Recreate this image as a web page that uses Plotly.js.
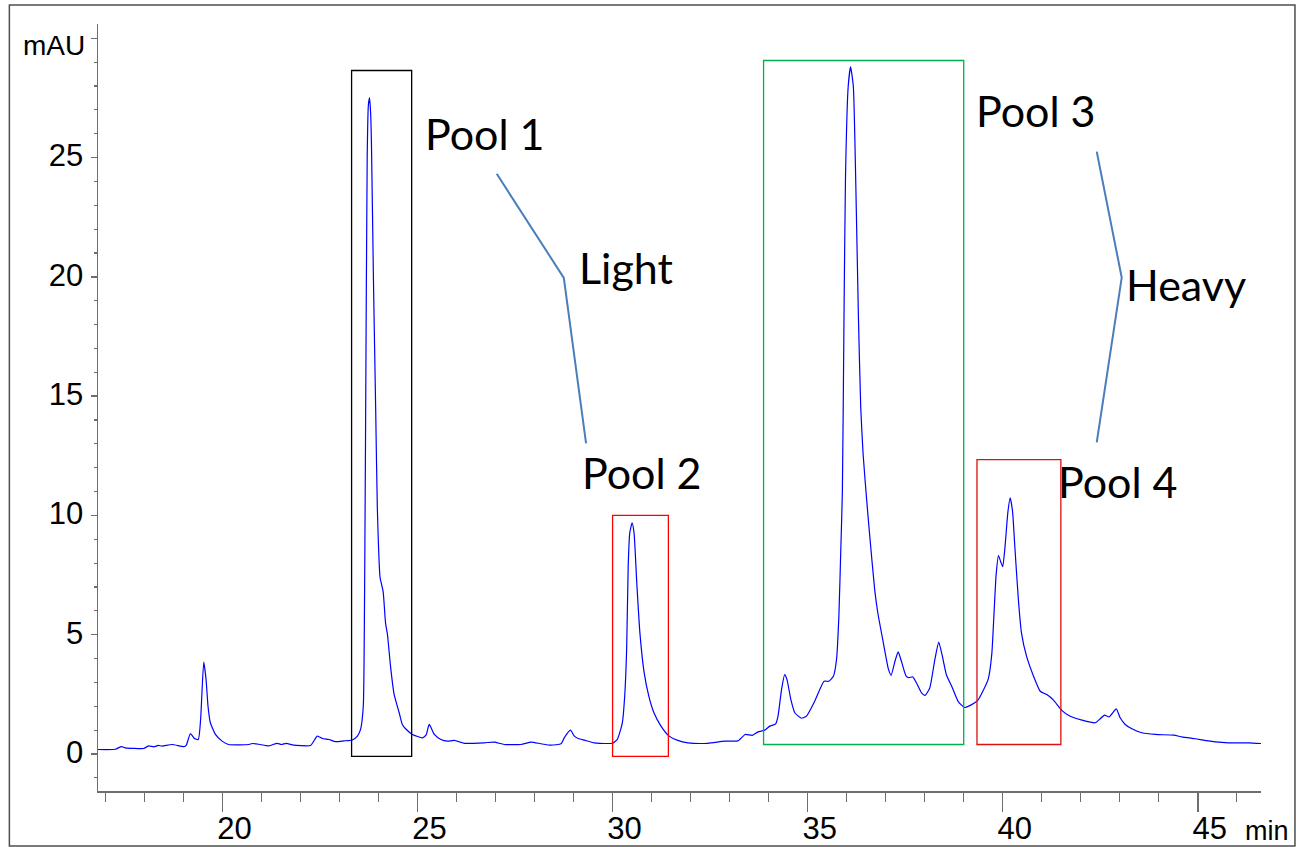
<!DOCTYPE html>
<html>
<head>
<meta charset="utf-8">
<script src="https://cdn.plot.ly/plotly-3.0.1.min.js"></script>
<style>
  html, body { margin: 0; padding: 0; background: #fff; }
  #chart { width: 1296px; height: 847px; }
</style>
</head>
<body>
<div id="chart"></div>
<script>
// Retention time (min)
const rt = [
  16.81, 17.25, 17.41, 17.51, 17.98, 18.11, 18.24, 18.36, 18.45, 18.71,
  19.01, 19.07, 19.18, 19.28, 19.38, 19.44, 19.52, 19.58, 19.63, 19.69,
  19.82, 19.99, 20.16, 20.68, 20.76, 20.93, 21.19, 21.40, 21.51, 21.64,
  21.79, 22.26, 22.43, 22.56, 22.73, 22.90, 23.11, 23.33, 23.46, 23.54,
  23.61, 23.64, 23.67, 23.71, 23.74, 23.77, 23.80, 23.82, 23.87, 23.93,
  23.97, 24.04, 24.08, 24.12, 24.18, 24.23, 24.31, 24.40, 24.53, 24.61,
  24.70, 24.87, 25.13, 25.22, 25.30, 25.43, 25.60, 25.77, 25.94, 26.20,
  26.71, 26.97, 27.22, 27.65, 27.91, 28.16, 28.42, 28.68, 28.76, 28.92,
  29.02, 29.12, 29.28, 29.53, 29.87, 29.99, 30.12, 30.25, 30.31, 30.36,
  30.40, 30.44, 30.50, 30.55, 30.62, 30.70, 30.81, 30.93, 31.06, 31.24,
  31.45, 31.67, 31.93, 32.44, 32.87, 33.21, 33.40, 33.58, 33.73, 33.90,
  34.03, 34.18, 34.24, 34.33, 34.41, 34.47, 34.57, 34.67, 34.84, 34.97,
  35.18, 35.42, 35.54, 35.66, 35.74, 35.80, 35.85, 35.89, 35.93, 35.97,
  36.04, 36.10, 36.17, 36.23, 36.30, 36.36, 36.42, 36.51, 36.59, 36.72,
  36.80, 36.94, 37.07, 37.14, 37.24, 37.32, 37.41, 37.52, 37.60, 37.69,
  37.79, 37.92, 38.01, 38.13, 38.26, 38.36, 38.45, 38.56, 38.69, 38.86,
  39.02, 39.18, 39.36, 39.49, 39.63, 39.72, 39.78, 39.83, 39.89, 39.95,
  40.00, 40.06, 40.13, 40.19, 40.25, 40.31, 40.40, 40.48, 40.61, 40.79,
  40.96, 41.13, 41.30, 41.52, 41.73, 42.03, 42.37, 42.50, 42.61, 42.73,
  42.91, 43.01, 43.14, 43.31, 43.57, 43.91, 44.38, 44.59, 44.93, 45.45,
  45.79, 46.31, 46.62
];
// Absorbance (mAU)
const absorb = [
  0.19, 0.20, 0.31, 0.26, 0.23, 0.34, 0.30, 0.36, 0.33, 0.40,
  0.31, 0.36, 0.86, 0.65, 0.61, 1.45, 3.85, 3.12, 2.00, 1.31,
  0.82, 0.54, 0.40, 0.40, 0.44, 0.41, 0.34, 0.45, 0.40, 0.45,
  0.38, 0.36, 0.75, 0.65, 0.61, 0.52, 0.55, 0.59, 0.75, 1.03,
  2.00, 6.00, 14.0, 25.0, 27.2, 27.5, 26.8, 25.5, 19.9, 14.2,
  10.3, 7.40, 7.10, 6.80, 5.50, 5.00, 3.65, 2.50, 1.73, 1.24,
  1.05, 0.82, 0.68, 0.80, 1.24, 0.82, 0.61, 0.54, 0.57, 0.45,
  0.47, 0.50, 0.40, 0.40, 0.50, 0.43, 0.37, 0.43, 0.68, 1.00,
  0.75, 0.65, 0.58, 0.47, 0.44, 0.45, 0.61, 1.31, 2.42, 4.38,
  7.87, 9.27, 9.69, 9.27, 7.17, 5.08, 3.40, 2.42, 1.73, 1.17,
  0.75, 0.57, 0.47, 0.45, 0.54, 0.55, 0.82, 0.78, 0.93, 1.00,
  1.17, 1.26, 1.59, 2.70, 3.33, 3.12, 2.28, 1.73, 1.50, 1.59,
  2.21, 3.05, 3.05, 3.26, 3.96, 5.78, 8.60, 11.0, 18.0, 24.2,
  28.0, 28.8, 28.0, 24.2, 18.4, 14.55, 12.6, 10.7, 9.17, 6.86,
  5.90, 4.66, 3.56, 3.30, 3.90, 4.28, 3.85, 3.28, 3.20, 3.24,
  2.98, 2.56, 2.46, 2.77, 3.96, 4.69, 4.12, 3.30, 2.85, 2.20,
  1.95, 2.05, 2.25, 2.63, 3.15, 4.20, 6.00, 7.50, 8.32, 8.05,
  7.85, 8.71, 10.11, 10.74, 10.2, 8.70, 6.50, 5.08, 4.10, 3.26,
  2.63, 2.49, 2.26, 1.82, 1.58, 1.42, 1.31, 1.48, 1.63, 1.56,
  1.89, 1.52, 1.24, 1.06, 0.89, 0.82, 0.79, 0.72, 0.64, 0.51,
  0.47, 0.47, 0.44
];

// Fraction pools (collection windows)
const poolNames  = ["Pool 1", "Pool 2", "Pool 3", "Pool 4"];
const poolStart  = [23.31, 30.00, 33.87, 39.34];
const poolEnd    = [24.85, 31.43, 39.00, 41.49];
const poolTop    = [28.65, 10.00, 29.07, 12.34];
const poolBottom = [-0.10, -0.10, 0.40, 0.40];
const poolColors = ["#000000", "#ff0000", "#00b050", "#dd1111"];

// Axis ticks
const xTickVals = [20, 25, 30, 35, 40, 45];
const xTickText = ["20", "25", "30", "35", "40", "45"];
const yTickVals = [0, 5, 10, 15, 20, 25, 30];
const yTickText = ["0", "5", "10", "15", "20", "25", ""];
const yUnit = "mAU";
const xUnit = "min";

const axisGray = "#6e6e6e";
const labelFont = "Lato, 'Open Sans', sans-serif";
const arialFont = "Arial, 'Liberation Sans', sans-serif";

const shapes = [];
for (let i = 0; i < poolNames.length; i++) {
  shapes.push({
    type: "rect", xref: "x", yref: "y",
    x0: poolStart[i], x1: poolEnd[i], y0: poolBottom[i], y1: poolTop[i],
    line: { color: poolColors[i], width: 1.3 }, fillcolor: "rgba(0,0,0,0)"
  });
}
// connector brackets
shapes.push({
  type: "path", xref: "x", yref: "y",
  path: "M 27.03 24.32 L 28.75 19.96 L 29.32 13.02",
  line: { color: "#4a7ebb", width: 2 }
});
shapes.push({
  type: "path", xref: "x", yref: "y",
  path: "M 42.41 25.25 L 43.05 19.97 L 42.41 13.06",
  line: { color: "#4a7ebb", width: 2 }
});
// outer frame
shapes.push({
  type: "rect", xref: "paper", yref: "paper",
  x0: -0.0762, x1: 1.0292, y0: -0.0717, y1: 1.0248,
  line: { color: "#4d4d4d", width: 1.5 }, fillcolor: "rgba(0,0,0,0)"
});

const annFont = { family: labelFont, size: 43, color: "#000" };
const annotations = [
  { text: poolNames[0], x: 25.13, y: 26.03 },
  { text: "Light",      x: 29.09, y: 20.41 },
  { text: poolNames[1], x: 29.16, y: 11.78 },
  { text: poolNames[2], x: 39.27, y: 26.99 },
  { text: "Heavy",      x: 43.12, y: 19.68 },
  { text: poolNames[3], x: 41.37, y: 11.44 }
].map(a => Object.assign({
  xref: "x", yref: "y", xanchor: "left", yanchor: "middle",
  showarrow: false, font: annFont
}, a));
annotations.push({
  text: xUnit, xref: "paper", yref: "paper", x: 0.9845, y: -0.052,
  xanchor: "left", yanchor: "middle", showarrow: false,
  font: { family: arialFont, size: 27, color: "#000" }
});
annotations.push({
  text: yUnit, xref: "paper", yref: "paper", x: -0.0092, y: 0.9726,
  xanchor: "right", yanchor: "middle", showarrow: false,
  font: { family: arialFont, size: 28, color: "#000" }
});

const trace = {
  x: rt, y: absorb, type: "scatter", mode: "lines",
  line: { color: "#0000ff", width: 1.2, shape: "spline", smoothing: 0.5 },
  hoverinfo: "x+y"
};

const layout = {
  width: 1296, height: 847,
  margin: { l: 97.7, r: 35, t: 24, b: 56 },
  paper_bgcolor: "#ffffff", plot_bgcolor: "#ffffff",
  showlegend: false,
  font: { family: arialFont, size: 31, color: "#000" },
  xaxis: {
    range: [16.81, 46.62], showgrid: false, zeroline: false,
    showline: true, linecolor: axisGray, linewidth: 1.5,
    tickmode: "array", tickvals: xTickVals, ticktext: xTickText,
    ticks: "outside", ticklen: 19, tickwidth: 1.5, tickcolor: axisGray,
    ticklabelshift: 12, ticklabelstandoff: -10,
    minor: { dtick: 1, tick0: 0, ticks: "outside", ticklen: 9, tickwidth: 1.2, tickcolor: axisGray, showgrid: false },
    tickfont: { size: 31 }
  },
  yaxis: {
    range: [-1.55, 30.6], showgrid: false, zeroline: false,
    showline: true, linecolor: axisGray, linewidth: 1.5,
    tickmode: "array", tickvals: yTickVals, ticktext: yTickText,
    ticks: "outside", ticklen: 6, tickwidth: 1.5, tickcolor: axisGray,
    ticklabelstandoff: 1, ticklabelshift: -2,
    minor: { dtick: 1, tick0: 0, ticks: "outside", ticklen: 3, tickwidth: 1.2, tickcolor: axisGray, showgrid: false },
    tickfont: { size: 31 }
  },
  shapes: shapes,
  annotations: annotations
};

Plotly.newPlot("chart", [trace], layout, { displayModeBar: false, staticPlot: true });
</script>
</body>
</html>
